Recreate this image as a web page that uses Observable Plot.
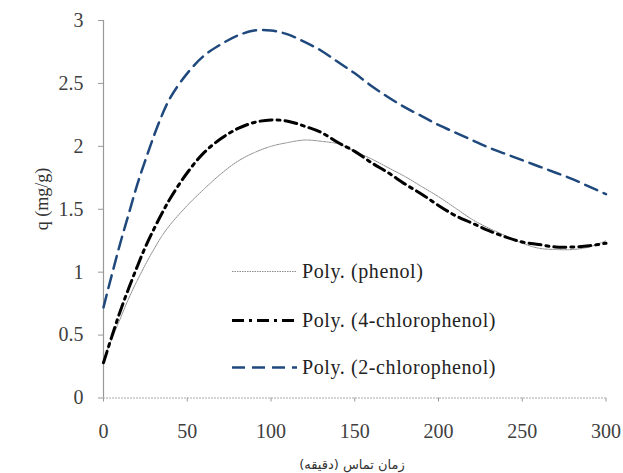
<!DOCTYPE html>
<html>
<head>
<meta charset="utf-8">
<script src="https://cdn.jsdelivr.net/npm/d3@7"></script>
<script src="https://cdn.jsdelivr.net/npm/@observablehq/plot@0.6"></script>
<style>
  html, body { margin: 0; padding: 0; background: #fff; }
  #wrap { position: relative; width: 623px; height: 473px; overflow: hidden; }
  #wrap > svg { position: absolute; left: 0; top: 0; }
  .lab { position: absolute; white-space: nowrap; color: #333; }
  #ylab { font-family: "Liberation Serif", serif; font-size: 18px; left: 42px; top: 199px; transform: translate(-50%, -50%) rotate(-90deg); }
  #xlab { font-family: "DejaVu Sans", sans-serif; font-size: 13px; left: 352px; top: 464px; transform: translate(-50%, -50%); direction: rtl; }
  .leg { position: absolute; left: 232px; display: flex; align-items: center; transform: translateY(-50%); font-family: "Liberation Serif", serif; font-size: 20px; letter-spacing: 0.6px; color: #222; white-space: nowrap; }
  #wrap .leg svg { position: static; display: block; margin-right: 5px; }
</style>
</head>
<body>
<div id="wrap"></div>
<script>
// time (min)
const timeP = [0,5,10,15,20,25,30,35,40,50,60,70,80,90,100,110,120,130,140,150,160,170,180,190,200,210,220,230,240,250,260,270,280,290,300];
// Poly. (phenol)
const phenol = [0.30,0.47,0.63,0.79,0.93,1.06,1.18,1.29,1.38,1.53,1.66,1.78,1.88,1.95,2.00,2.03,2.05,2.04,2.02,1.96,1.90,1.83,1.76,1.68,1.60,1.51,1.42,1.35,1.29,1.23,1.19,1.18,1.18,1.20,1.25];
// Poly. (4-chlorophenol)
const chloro4 = [0.28,0.49,0.69,0.87,1.04,1.20,1.34,1.47,1.59,1.79,1.95,2.06,2.14,2.19,2.21,2.20,2.16,2.11,2.03,1.96,1.87,1.79,1.70,1.62,1.53,1.45,1.39,1.33,1.28,1.24,1.22,1.20,1.20,1.21,1.23];
// Poly. (2-chlorophenol)
const chloro2 = [0.72,0.98,1.23,1.46,1.69,1.89,2.08,2.25,2.39,2.58,2.72,2.81,2.88,2.92,2.92,2.89,2.83,2.76,2.67,2.58,2.48,2.39,2.31,2.24,2.17,2.11,2.05,1.99,1.94,1.89,1.84,1.79,1.74,1.68,1.62];

const seriesNames = ["Poly. (phenol)", "Poly. (4-chlorophenol)", "Poly. (2-chlorophenol)"];
const xTicks = [0,50,100,150,200,250,300];
const yTicks = [0,0.5,1,1.5,2,2.5,3];
const yLabel = "q (mg/g)";
const xLabel = "زمان تماس (دقیقه)";

const styles = [
  {stroke: "#8c8c8c", strokeWidth: 1, strokeDasharray: "1.5,1"},
  {stroke: "#000000", strokeWidth: 3, strokeDasharray: "12,5,3,5"},
  {stroke: "#1F497D", strokeWidth: 2.5, strokeDasharray: "13,7"}
];

const mk = (arr) => timeP.map((t, i) => ({t, q: arr[i]}));
const dataSets = [mk(phenol), mk(chloro4), mk(chloro2)];

const chart = Plot.plot({
  width: 623,
  height: 473,
  marginLeft: 103,
  marginRight: 17.5,
  marginTop: 20,
  marginBottom: 75.5,
  style: {fontFamily: "Liberation Serif, serif", fontSize: "20px", color: "#404040", background: "transparent"},
  x: {domain: [0, 300]},
  y: {domain: [0, 3]},
  marks: [
    Plot.axisY(yTicks, {tickSize: 5, tickPadding: 15, stroke: "#999", fill: "#404040", label: null, tickFormat: d => String(d)}),
    Plot.axisX(xTicks, {tickSize: 4, tickPadding: 22, stroke: "#999", fill: "#404040", label: null, tickFormat: d => String(d)}),
    Plot.ruleY([0], {stroke: "#aaa", strokeWidth: 1, strokeDasharray: "2,1"}),
    Plot.ruleX([0], {stroke: "#999", strokeWidth: 1.2}),
    ...dataSets.map((d, i) => Plot.line(d, {x: "t", y: "q", curve: "catmull-rom", ...styles[i]}))
  ]
});

const wrap = document.getElementById("wrap");
wrap.appendChild(chart);

const yl = document.createElement("div");
yl.className = "lab"; yl.id = "ylab"; yl.textContent = yLabel;
wrap.appendChild(yl);
const xl = document.createElement("div");
xl.className = "lab"; xl.id = "xlab"; xl.textContent = xLabel;
wrap.appendChild(xl);

const legTops = [271, 320, 367];
seriesNames.forEach((name, i) => {
  const row = document.createElement("div");
  row.className = "leg";
  row.style.top = legTops[i] + "px";
  const s = styles[i];
  row.innerHTML = `<svg width="65" height="8"><line x1="0" y1="4" x2="65" y2="4" stroke="${s.stroke}" stroke-width="${s.strokeWidth}" stroke-dasharray="${s.strokeDasharray}"/></svg><span></span>`;
  row.querySelector("span").textContent = name;
  wrap.appendChild(row);
});
</script>
</body>
</html>
